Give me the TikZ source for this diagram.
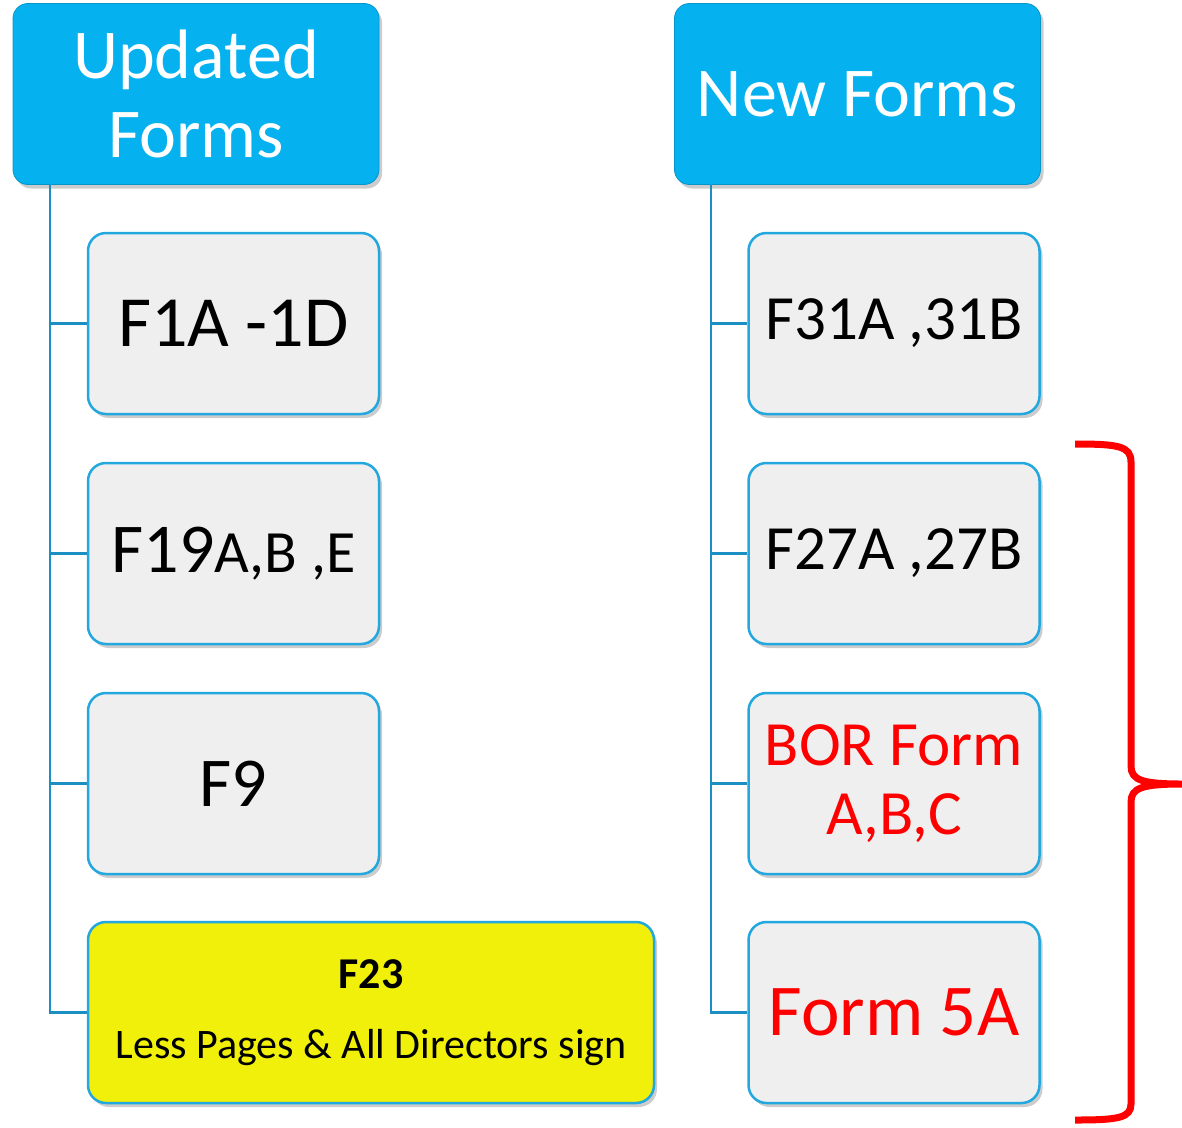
\documentclass[tikz,border=0pt]{standalone}
\usepackage{fontspec}
\setmainfont{Carlito}
\usetikzlibrary{shadows}
\definecolor{hdrblue}{HTML}{05B1EF}
\definecolor{boxgrey}{HTML}{EFEFEF}
\definecolor{boxedge}{HTML}{22A7DE}
\definecolor{linkblue}{HTML}{1B8EC2}
\definecolor{formyellow}{HTML}{F0F00A}
\definecolor{formred}{HTML}{FF0000}

\begin{document}
\begin{tikzpicture}[x=1pt, y=-1pt,
  hdr/.style={rectangle, rounded corners=15pt, fill=hdrblue, draw=hdrblue!85!black, line width=0.8pt, text=white, minimum width=366pt, minimum height=181pt, align=center, font=\fontsize{70}{79}\selectfont, drop shadow={shadow xshift=3pt, shadow yshift=-4pt, opacity=0.4}},
  item/.style={rectangle, rounded corners=18pt, fill=boxgrey, draw=boxedge, line width=2.5pt, minimum width=291pt, minimum height=181pt, align=center, drop shadow={shadow xshift=3pt, shadow yshift=-4pt, opacity=0.4}},
  conn/.style={draw=linkblue, line width=2.8pt}]
\useasboundingbox (0,0) rectangle (1182,1127);
% headers
\node[hdr] (upd) at (196,94) {Updated\\Forms};
\node[hdr] (new) at (857.5,94) {New Forms};
% updated forms
\node[item, font=\fontsize{72}{80}\selectfont] (f1a) at (233.5,323.5) {F1A -1D};
\node[item, font=\fontsize{70}{80}\selectfont] (f19) at (233.5,553.5) {F19{\fontsize{60}{70}\selectfont A,B ,E}};
\node[item, font=\fontsize{70}{80}\selectfont] (f9) at (233.5,783.5) {F9};
\node[item, fill=formyellow, minimum width=566pt, font=\fontsize{42}{70}\selectfont] (f23) at (371,1012.5) {{\fontsize{44}{70}\selectfont\bfseries F23}\\Less Pages \& All Directors sign};
% new forms
\node[item, font=\fontsize{63}{70}\selectfont] (f31) at (894,323.5) {F31A ,31B};
\node[item, font=\fontsize{63}{70}\selectfont] (f27) at (894,553.5) {F27A ,27B};
\node[item, text=formred, font=\fontsize{63}{69}\selectfont] (bor) at (894,783.5) {BOR Form\\A,B,C};
\node[item, text=formred, font=\fontsize{73}{80}\selectfont] (f5a) at (894,1012.5) {Form 5A};
% tree lines
\coordinate (lt) at (50,185);
\coordinate (rt) at (711,185);
\draw[conn] (lt) |- (f23.west);
\draw[conn] (rt) |- (f5a.west);
\foreach \n in {f1a,f19,f9} \draw[conn] (\n.west) -- (\n.west -| lt);
\foreach \n in {f31,f27,bor} \draw[conn] (\n.west) -- (\n.west -| rt);
% brace
\draw[formred, line width=7pt, line join=round] (1075,444) .. controls (1118,444) and (1131,446) .. (1131,462) -- (1131,766) .. controls (1131,780) and (1142,784) .. (1182,784) .. controls (1142,784) and (1131,788) .. (1131,802) -- (1131,1104) .. controls (1131,1118) and (1118,1120) .. (1075,1120);
\end{tikzpicture}
\end{document}
